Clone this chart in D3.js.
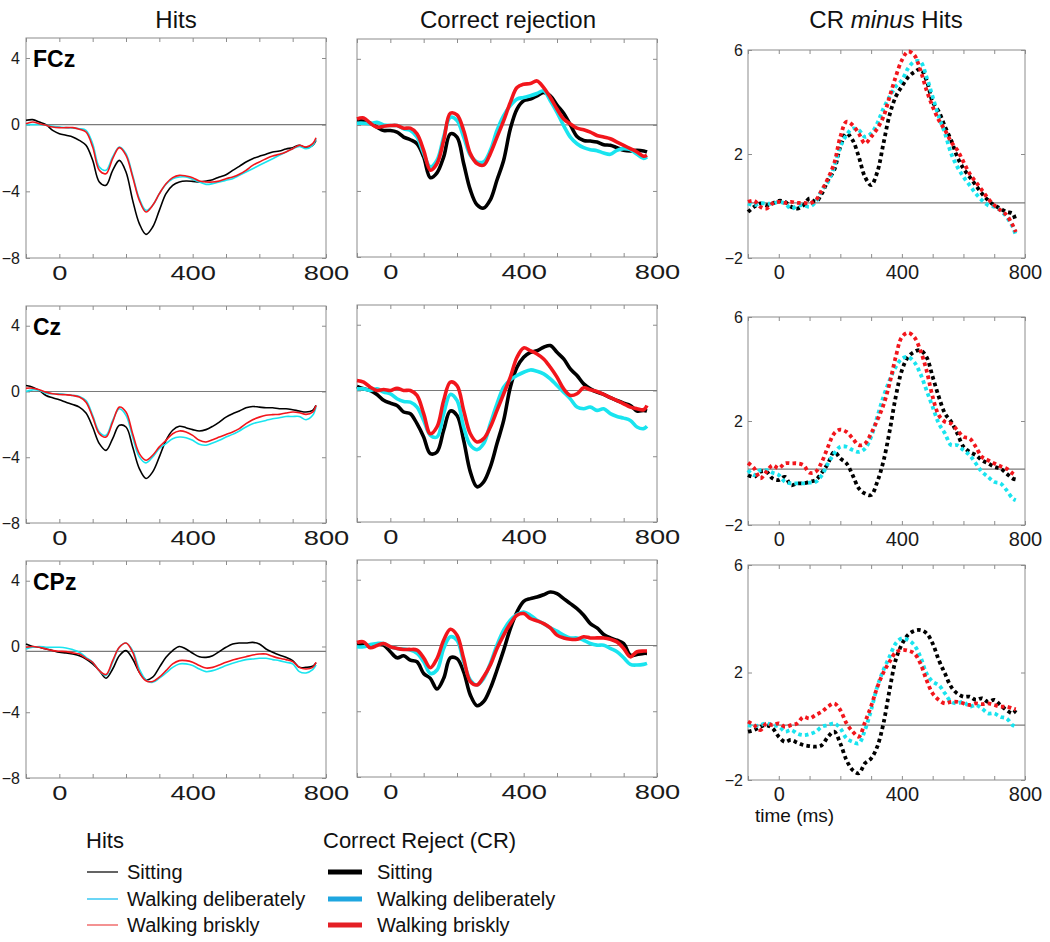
<!DOCTYPE html>
<html><head><meta charset="utf-8">
<script src="https://cdn.jsdelivr.net/npm/d3@7"></script>
<style>body{margin:0;background:#fff}svg{display:block;font-family:"Liberation Sans",Arial,sans-serif}</style>
</head><body><svg id="c" width="1050" height="942"></svg>
<script>
// ---------- data ----------
const times = [-100,-80,-60,-40,-20,0,20,40,60,80,100,120,140,160,180,200,220,240,260,280,300,320,340,360,380,400,420,440,460,480,500,520,540,560,580,600,620,640,660,680,700,720,740,760,770];
const electrodes = ["FCz","Cz","CPz"];
const conditions = ["Sitting","Walking deliberately","Walking briskly"];
const xTicks = [-100,0,100,200,300,400,500,600,700,800];
const xTickLabels = [0,400,800];
const erpYTicks = [4,0,-4,-8];
const diffYTicks = [6,2,-2];

// Hits (thin lines)
const hitsSitFCz = [0.26,0.3,0.16,0,-0.34,-0.54,-0.64,-0.74,-0.94,-1.24,-2.14,-3.44,-3.64,-2.74,-2.14,-2.84,-4.54,-5.94,-6.58,-6.14,-5.14,-4.14,-3.64,-3.44,-3.38,-3.4,-3.44,-3.38,-3.3,-3.14,-3.0,-2.74,-2.5,-2.24,-2.04,-1.9,-1.78,-1.64,-1.58,-1.46,-1.38,-1.24,-1.38,-1.24,-0.94];
const hitsDelFCz = [0,0,0,-0.04,-0.1,-0.14,-0.18,-0.2,-0.24,-0.34,-1.14,-2.54,-2.74,-1.94,-1.34,-1.74,-3.04,-4.44,-5.14,-4.84,-4.14,-3.58,-3.24,-3.14,-3.14,-3.28,-3.44,-3.58,-3.54,-3.44,-3.34,-3.24,-3.04,-2.84,-2.64,-2.44,-2.24,-2.04,-1.84,-1.64,-1.44,-1.3,-1.44,-1.24,-0.84];
const hitsBriFCz = [0.06,0.16,0.06,-0.04,-0.14,-0.18,-0.18,-0.18,-0.28,-0.44,-1.34,-2.74,-2.94,-2.04,-1.38,-1.84,-3.14,-4.54,-5.24,-4.84,-4.14,-3.54,-3.18,-3.04,-3.08,-3.18,-3.38,-3.44,-3.44,-3.38,-3.24,-3.14,-2.98,-2.74,-2.44,-2.24,-2.04,-1.88,-1.78,-1.64,-1.44,-1.24,-1.34,-1.14,-0.78];
const hitsSitCz = [0.36,0.26,0.06,-0.24,-0.38,-0.5,-0.65,-0.79,-0.95,-1.31,-2.16,-3.17,-3.58,-2.87,-2.06,-2.16,-3.37,-4.69,-5.29,-4.89,-3.98,-2.97,-2.36,-2.12,-2.2,-2.32,-2.4,-2.32,-2.12,-1.86,-1.56,-1.35,-1.19,-0.99,-0.91,-0.95,-0.99,-0.99,-1.05,-1.05,-1.11,-1.19,-1.25,-1.15,-0.85];
const hitsDelCz = [0,0.1,0.06,-0.1,-0.14,-0.14,-0.18,-0.24,-0.3,-0.55,-1.45,-2.46,-2.67,-1.76,-1.05,-1.45,-2.77,-3.98,-4.34,-3.98,-3.47,-3.17,-2.87,-2.77,-2.81,-2.97,-3.21,-3.27,-3.13,-2.97,-2.77,-2.61,-2.4,-2.16,-1.96,-1.86,-1.76,-1.66,-1.6,-1.52,-1.52,-1.52,-1.72,-1.45,-0.95];
const hitsBriCz = [0.2,0.2,0.1,-0.04,-0.14,-0.18,-0.2,-0.24,-0.34,-0.65,-1.56,-2.57,-2.77,-1.86,-0.95,-1.25,-2.57,-3.78,-4.18,-3.88,-3.37,-2.97,-2.57,-2.4,-2.46,-2.67,-2.97,-3.07,-2.93,-2.77,-2.61,-2.46,-2.26,-1.96,-1.72,-1.56,-1.45,-1.41,-1.39,-1.31,-1.25,-1.29,-1.39,-1.25,-0.85];
const hitsSitCPz = [0.15,0,-0.05,-0.15,-0.25,-0.35,-0.39,-0.46,-0.56,-0.76,-1.06,-1.47,-1.93,-1.37,-0.56,-0.25,-0.76,-1.57,-2.03,-1.87,-1.27,-0.66,-0.25,0,-0.15,-0.41,-0.62,-0.66,-0.56,-0.31,-0.05,0.15,0.21,0.21,0.25,0.15,-0.15,-0.35,-0.52,-0.66,-0.86,-1.27,-1.27,-1.2,-1.0];
const hitsDelCPz = [-0.15,-0.05,0,-0.05,-0.05,-0.05,-0.09,-0.19,-0.35,-0.66,-0.96,-1.47,-1.77,-0.96,-0.05,0.21,-0.25,-1.37,-2.03,-2.18,-1.93,-1.61,-1.27,-1.06,-1.06,-1.16,-1.37,-1.53,-1.47,-1.33,-1.16,-1.02,-0.9,-0.8,-0.76,-0.72,-0.72,-0.8,-0.86,-0.96,-1.06,-1.53,-1.61,-1.41,-1.12];
const hitsBriCPz = [-0.05,0,-0.05,-0.15,-0.25,-0.29,-0.31,-0.39,-0.46,-0.72,-0.96,-1.47,-1.7,-0.86,-0.05,0.21,-0.35,-1.57,-2.08,-2.13,-1.87,-1.47,-1.06,-0.86,-0.86,-0.96,-1.16,-1.31,-1.27,-1.12,-0.96,-0.82,-0.72,-0.62,-0.52,-0.46,-0.46,-0.6,-0.72,-0.8,-0.92,-1.27,-1.37,-1.27,-0.96];

// Correct rejections (thick lines)
const crSitFCz = [0.26,0.22,0.1,-0.14,-0.34,-0.34,-0.44,-0.74,-0.9,-1.14,-1.94,-3.2,-2.9,-1.94,-0.54,-0.74,-2.34,-3.94,-4.84,-5.04,-4.54,-3.34,-2.14,-0.24,0.96,1.46,1.56,1.76,1.96,1.76,1.2,0.7,0.0,-0.7,-0.95,-0.98,-1.04,-1.2,-1.24,-1.38,-1.54,-1.58,-1.54,-1.58,-1.64];
const crDelFCz = [0.1,0.1,0.06,0.16,0,-0.04,-0.04,-0.24,-0.34,-0.74,-1.74,-2.54,-2.14,-0.74,0.46,0.26,-0.74,-1.84,-2.24,-2.24,-1.54,-0.34,0.56,1.16,1.56,1.66,1.76,1.9,2.06,1.46,0.76,-0.04,-0.74,-1.14,-1.38,-1.5,-1.56,-1.7,-1.78,-1.54,-1.44,-1.5,-1.78,-2.04,-1.94];
const crBriFCz = [0.36,0.42,0.1,-0.14,-0.08,-0.04,-0.04,-0.2,-0.2,-0.54,-1.54,-2.74,-2.34,-0.94,0.7,0.6,-0.34,-1.74,-2.34,-2.44,-1.74,-0.74,0.26,1.36,2.26,2.46,2.5,2.66,2.26,1.66,0.96,0.36,0.06,-0.2,-0.3,-0.44,-0.64,-0.74,-0.84,-1.04,-1.24,-1.44,-1.64,-1.9,-1.84];
const crSitCz = [0.24,0.1,0,-0.24,-0.6,-0.77,-0.91,-1.31,-1.41,-2.02,-2.83,-3.84,-3.74,-2.42,-1.25,-1.52,-3.03,-4.95,-5.86,-5.56,-4.65,-3.23,-1.82,0.2,1.41,2.02,2.32,2.42,2.63,2.73,2.32,1.92,1.31,0.91,0.4,0.1,-0.1,-0.24,-0.44,-0.61,-0.77,-0.91,-1.25,-1.21,-1.25];
const crDelCz = [0.1,0.1,0,0.1,-0.1,-0.2,-0.5,-0.67,-0.71,-1.01,-1.82,-2.73,-2.83,-1.41,-0.24,-0.6,-2.22,-3.33,-3.6,-3.23,-2.02,-0.81,0.2,0.65,0.91,1.11,1.25,1.17,1.01,0.71,0.3,-0.1,-0.51,-1.01,-1.11,-1.01,-1.21,-1.11,-1.41,-1.58,-1.68,-1.82,-2.22,-2.32,-2.18];
const crBriCz = [0.61,0.51,0.2,0,0.06,0,0.14,0,0,-0.3,-1.41,-2.63,-2.22,-0.61,0.51,0.3,-1.21,-2.63,-3.13,-2.93,-2.22,-1.21,-0.2,0.81,2.02,2.59,2.42,2.22,1.92,1.41,0.81,0.1,-0.3,-0.2,0.16,0.04,-0.06,-0.24,-0.44,-0.61,-0.81,-1.01,-1.11,-1.17,-0.91];
const crSitCPz = [0.06,0.06,-0.08,0.06,0.02,-0.38,-0.75,-0.63,-0.89,-0.99,-1.7,-2.0,-2.65,-2.0,-0.75,-0.8,-1.6,-3.01,-3.66,-3.41,-2.61,-1.49,-0.28,1.03,2.04,2.69,2.85,2.95,3.09,3.25,3.15,2.85,2.55,2.24,1.84,1.33,1.07,0.67,0.46,0.32,0.12,-0.59,-0.55,-0.48,-0.48];
const crDelCPz = [-0.08,-0.08,0.06,0.12,0.12,-0.08,-0.18,-0.22,-0.28,-0.48,-0.99,-1.7,-1.49,-0.18,0.53,0.32,-0.99,-2.1,-2.4,-2.0,-1.09,0.02,0.93,1.54,1.88,2.04,1.84,1.54,1.33,1.07,0.87,0.63,0.46,0.46,0.32,0.12,0.02,0.02,-0.18,-0.38,-0.75,-1.15,-1.19,-1.15,-1.09];
const crBriCPz = [0.18,0.22,-0.14,0,0.12,-0.08,-0.18,-0.24,-0.24,-0.28,-0.75,-1.35,-0.79,0.32,0.99,0.63,-0.79,-2.2,-2.4,-1.9,-1.19,-0.18,0.63,1.33,1.84,1.94,1.64,1.5,1.33,1.07,0.63,0.46,0.38,0.38,0.53,0.46,0.46,0.46,0.38,0.22,-0.18,-0.69,-0.38,-0.34,-0.34];

// CR minus Hits (dotted lines)
const diffSitFCz = [-0.23,-0.03,0.1,0.03,0.1,0.2,0.16,-0.03,-0.1,0.03,0.29,0.16,0.48,0.99,1.38,2.28,2.79,2.53,1.89,1.12,0.8,1.3,2.4,3.5,4.2,4.6,4.95,5.15,5.26,4.84,4.0,3.63,3.05,2.53,1.89,1.44,1.12,0.8,0.48,0.22,0.03,-0.1,-0.23,-0.29,-0.6];
const diffDelFCz = [0.1,0.03,0.1,0.1,0.08,0.16,0.1,-0.1,0,0.03,-0.03,0.16,0.61,0.93,1.51,2.28,2.73,2.98,2.92,2.66,2.79,3.18,3.75,4.2,4.59,4.84,5.29,5.55,5.55,4.97,4.2,3.43,2.79,2.02,1.51,1.12,0.8,0.48,0.22,0.03,-0.03,-0.16,-0.42,-0.8,-1.12];
const diffBriFCz = [0.16,0.2,-0.03,-0.1,0.1,0.16,0.12,0.16,0.12,0.12,0.1,0.22,0.61,1.06,1.64,2.66,3.24,3.11,2.79,2.41,2.66,2.98,3.43,4.2,4.97,5.61,5.94,5.81,5.23,4.46,3.82,3.3,2.92,2.47,2.15,1.7,1.25,0.93,0.61,0.29,0.03,-0.16,-0.35,-0.74,-1.0];
const diffSitCz = [-0.08,-0.15,0.05,0.05,-0.21,-0.27,-0.15,-0.47,-0.4,-0.4,-0.34,-0.27,0.01,0.37,0.81,0.56,0.37,-0.08,-0.59,-0.79,-0.85,-0.34,0.45,1.6,2.93,3.95,4.46,4.66,4.72,4.46,3.7,2.93,2.29,1.97,1.52,1.01,0.81,0.69,0.49,0.37,0.24,0.17,-0.02,-0.21,-0.25];
const diffDelCz = [0.11,-0.08,0.11,0.11,0.01,-0.08,-0.34,-0.4,-0.4,-0.4,-0.37,-0.34,-0.08,0.37,0.75,1.01,1.01,0.88,0.81,0.94,1.39,2.16,2.93,3.57,4.08,4.4,4.46,4.27,3.82,3.18,2.54,1.9,1.52,1.07,1.07,0.88,0.69,0.37,0.05,-0.15,-0.34,-0.4,-0.66,-0.98,-1.05];
const diffBriCz = [0.39,0.18,-0.21,0.05,0.3,0.18,0.37,0.37,0.37,0.3,0.01,0.05,0.43,1.01,1.52,1.67,1.58,1.33,1.07,1.13,1.52,2.03,2.61,3.44,4.46,5.23,5.39,5.23,4.72,3.95,2.93,2.22,1.97,1.9,1.65,1.39,1.33,1.01,0.62,0.49,0.37,0.26,0.17,-0.02,-0.1];
const diffSitCPz = [-0.2,-0.14,-0.02,0.04,-0.08,-0.39,-0.58,-0.51,-0.61,-0.7,-0.74,-0.76,-0.7,-0.39,-0.2,-0.64,-1.26,-1.63,-1.75,-1.38,-1.2,-0.76,0.1,1.35,2.47,3.05,3.4,3.55,3.58,3.46,3.08,2.46,1.96,1.47,1.22,1.1,1.1,0.98,1.04,0.91,0.98,0.79,0.6,0.48,0.6];
const diffDelCPz = [0.04,0.0,0.04,0.11,0.04,0.0,-0.2,-0.14,-0.27,-0.33,-0.29,-0.2,-0.02,0.04,0.11,-0.08,-0.45,-0.58,-0.64,-0.14,0.6,1.47,2.09,2.59,3.08,3.27,3.21,3.02,2.59,1.97,1.66,1.53,1.22,0.91,0.85,0.91,0.73,0.79,0.66,0.48,0.48,0.35,0.29,0.04,-0.02];
const diffBriCPz = [0.17,0.04,-0.14,0.11,0.04,0.11,-0.02,0.04,0.11,0.35,0.29,0.42,0.54,0.73,0.85,0.6,0.11,-0.2,-0.39,0.15,0.75,1.45,2.0,2.4,2.75,2.84,2.81,2.71,2.34,1.72,1.22,0.98,0.85,0.91,0.91,0.85,0.79,0.85,0.82,0.85,0.79,0.73,0.73,0.66,0.63];

// reference (horizontal) line levels per row
const hitsRef = [0, 0, -0.3];
const crRef = [0, 0, 0];
const diffRef = [0.12, 0.15, 0.04];

// ---------- drawing ----------
const svg = d3.select("#c");
svg.append("rect").attr("width",1050).attr("height",942).attr("fill","#fff");

const plotColors = ["#000000", "#19e4ef", "#f2161c"];
const frameColor = "#8c8c8c";

const columns = [
  {x0:26, x1:326, tops:[38,306,561], bots:[258,523,778], yDomain:[-8,5.2], yTicks:erpYTicks, yLabels:true, yPad:6,
   series:[[hitsSitFCz,hitsDelFCz,hitsBriFCz],[hitsSitCz,hitsDelCz,hitsBriCz],[hitsSitCPz,hitsDelCPz,hitsBriCPz]],
   refs:hitsRef, width:1.6, dash:null, xFont:21, xScale:1.3},
  {x0:357, x1:657, tops:[39,305,560], bots:[257,522,777], yDomain:[-8,5.2], yTicks:erpYTicks, yLabels:false, yPad:6,
   series:[[crSitFCz,crDelFCz,crBriFCz],[crSitCz,crDelCz,crBriCz],[crSitCPz,crDelCPz,crBriCPz]],
   refs:crRef, width:3.6, dash:null, xFont:21, xScale:1.3},
  {x0:748, x1:1025, tops:[50,317,565], bots:[258,525,780], yDomain:[-2,6], yTicks:diffYTicks, yLabels:true, yPad:5,
   series:[[diffSitFCz,diffDelFCz,diffBriFCz],[diffSitCz,diffDelCz,diffBriCz],[diffSitCPz,diffDelCPz,diffBriCPz]],
   refs:diffRef, width:3.8, dash:"3.6 3.2", xFont:20, xScale:1.0}
];

function styleAxis(sel) {
  sel.select(".domain").remove();
  sel.selectAll(".tick line").attr("stroke", frameColor).attr("stroke-width", 1);
  sel.selectAll(".tick text").attr("fill", "#1a1a1a");
  sel.attr("font-family", null).attr("font-size", null);
}

columns.forEach((col, ci) => {
  for (let r = 0; r < 3; r++) {
    const top = col.tops[r], bot = col.bots[r];
    const x = d3.scaleLinear().domain([-100, 800]).range([col.x0, col.x1]);
    const y = d3.scaleLinear().domain(col.yDomain).range([bot, top]);
    const g = svg.append("g");

    g.append("rect").attr("x", col.x0).attr("y", top)
      .attr("width", col.x1 - col.x0).attr("height", bot - top)
      .attr("fill", "none").attr("stroke", frameColor).attr("stroke-width", 1);

    const xb = g.append("g").attr("transform", `translate(0,${bot})`)
      .call(d3.axisBottom(x).tickValues(xTicks).tickSizeInner(-4).tickSizeOuter(0).tickPadding(7)
        .tickFormat(d => xTickLabels.includes(d) ? d3.format("d")(d) : ""));
    styleAxis(xb);
    xb.selectAll(".tick text").attr("font-size", col.xFont).attr("transform", `scale(${col.xScale},1)`);

    const xt = g.append("g").attr("transform", `translate(0,${top})`)
      .call(d3.axisTop(x).tickValues(xTicks).tickSizeInner(-4).tickSizeOuter(0).tickFormat(() => ""));
    styleAxis(xt);

    const yl = g.append("g").attr("transform", `translate(${col.x0},0)`)
      .call(d3.axisLeft(y).tickValues(col.yTicks).tickSizeInner(-4).tickSizeOuter(0).tickPadding(col.yPad)
        .tickFormat(d => col.yLabels ? d3.format("d")(d) : ""));
    styleAxis(yl);
    yl.selectAll(".tick text").attr("font-size", 16);

    const yr = g.append("g").attr("transform", `translate(${col.x1},0)`)
      .call(d3.axisRight(y).tickValues(col.yTicks).tickSizeInner(-4).tickSizeOuter(0).tickFormat(() => ""));
    styleAxis(yr);

    g.append("line").attr("x1", col.x0).attr("x2", col.x1)
      .attr("y1", y(col.refs[r])).attr("y2", y(col.refs[r]))
      .attr("stroke", "#7a7a7a").attr("stroke-width", 1.2);

    const line = d3.line().x((d, i) => x(times[i])).y(d => y(d)).curve(d3.curveCatmullRom.alpha(0.5));
    col.series[r].forEach((vals, si) => {
      g.append("path").attr("d", line(vals)).attr("fill", "none")
        .attr("stroke", plotColors[si]).attr("stroke-width", col.width)
        .attr("stroke-linejoin", "round")
        .attr("stroke-dasharray", col.dash);
    });

    if (ci === 0) {
      g.append("text").attr("x", col.x0 + 7).attr("y", top + 29)
        .attr("font-size", 23).attr("font-weight", "bold").attr("fill", "#000")
        .text(electrodes[r]);
    }
  }
});

// column titles
const titleY = 28;
svg.append("text").attr("x", 176).attr("y", titleY).attr("text-anchor", "middle")
  .attr("font-size", 24).attr("fill", "#111").text("Hits");
svg.append("text").attr("x", 508).attr("y", titleY).attr("text-anchor", "middle")
  .attr("font-size", 24).attr("fill", "#111").text("Correct rejection");
const t3 = svg.append("text").attr("x", 886).attr("y", titleY).attr("text-anchor", "middle")
  .attr("font-size", 24).attr("fill", "#111");
t3.append("tspan").text("CR ");
t3.append("tspan").attr("font-style", "italic").text("minus");
t3.append("tspan").text(" Hits");

// x axis label
svg.append("text").attr("x", 755).attr("y", 822).attr("font-size", 19).attr("fill", "#111").text("time (ms)");

// legend
const legHitsColors = ["#222222", "#2cc4f2", "#f06464"];
const legCRColors = ["#000000", "#1ea6e0", "#e41f25"];
const legRowY = [872, 899, 925];
svg.append("text").attr("x", 86).attr("y", 848).attr("font-size", 22).attr("fill", "#111").text("Hits");
svg.append("text").attr("x", 323).attr("y", 848).attr("font-size", 22).attr("fill", "#111").text("Correct Reject (CR)");
conditions.forEach((c, i) => {
  svg.append("line").attr("x1", 87).attr("x2", 118).attr("y1", legRowY[i]).attr("y2", legRowY[i])
    .attr("stroke", legHitsColors[i]).attr("stroke-width", 1.4);
  svg.append("text").attr("x", 127).attr("y", legRowY[i] + 7).attr("font-size", 20).attr("fill", "#111").text(c);
  svg.append("line").attr("x1", 328).attr("x2", 362).attr("y1", legRowY[i]).attr("y2", legRowY[i])
    .attr("stroke", legCRColors[i]).attr("stroke-width", 5);
  svg.append("text").attr("x", 377).attr("y", legRowY[i] + 7).attr("font-size", 20).attr("fill", "#111").text(c);
});
</script>
</body></html>
